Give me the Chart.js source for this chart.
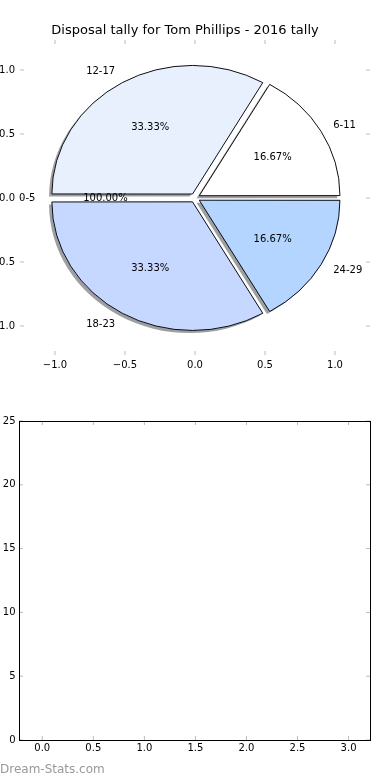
<!DOCTYPE html>
<html>
<head>
<meta charset="utf-8">
<script src="https://cdn.jsdelivr.net/npm/chart.js@4.4.0/dist/chart.umd.min.js"></script>
<style>
  html, body { margin: 0; padding: 0; background: #fff; }
  #page { position: relative; width: 390px; height: 780px; overflow: hidden; font-family: "DejaVu Sans", sans-serif; }
  .box { position: absolute; left: 0; width: 390px; height: 390px; }
  #topBox, #pieBox { top: 0; }
  #bottomBox { top: 390px; }
  #mark { position: absolute; left: 0; top: 762px; font-size: 12px; color: #999; white-space: nowrap; }
</style>
</head>
<body>
<div id="page">
  <div class="box" id="topBox"><canvas id="topAxes"></canvas></div>
  <div class="box" id="pieBox"><canvas id="pie"></canvas></div>
  <div class="box" id="bottomBox"><canvas id="bottomAxes"></canvas></div>
  <div id="mark">Dream-Stats.com</div>
</div>
<script>
const chartTitle = 'Disposal tally for Tom Phillips - 2016 tally';

// slices, counter-clockwise from 3 o'clock as in the picture
const ageGroups = ['6-11', '12-17', '0-5', '18-23', '24-29'];
const tally = [1, 2, 0, 2, 1];
const pctLabels = ['16.67%', '33.33%', '100.00%', '33.33%', '16.67%'];
const sliceColors = ['#ffffff', '#e8f0fe', '#dde8ff', '#c6d8ff', '#b3d5ff'];
const explode = 0.04;

const pieTicks = [-1.0, -0.5, 0.0, 0.5, 1.0];
const lowerXTicks = [0.0, 0.5, 1.0, 1.5, 2.0, 2.5, 3.0];
const lowerYTicks = [0, 5, 10, 15, 20, 25];

Chart.defaults.font.family = '"DejaVu Sans", sans-serif';
Chart.defaults.font.size = 10;
Chart.defaults.color = '#000';
Chart.defaults.animation = false;

const fmt1 = v => (v < 0 ? '\u2212' : '') + Math.abs(v).toFixed(1);

// little inward ticks on all four sides, like matplotlib's classic style
const innerTicks = {
  id: 'innerTicks',
  afterDraw(chart, args, opts) {
    const { ctx, chartArea: a, scales } = chart;
    ctx.save();
    ctx.strokeStyle = '#bbb';
    ctx.lineWidth = 1;
    ctx.beginPath();
    scales.x.ticks.forEach(t => {
      const p = scales.x.getPixelForValue(t.value);
      ctx.moveTo(p, a.top); ctx.lineTo(p, a.top + 4);
      ctx.moveTo(p, a.bottom); ctx.lineTo(p, a.bottom - 4);
    });
    scales.y.ticks.forEach(t => {
      const p = scales.y.getPixelForValue(t.value);
      ctx.moveTo(a.left, p); ctx.lineTo(a.left + 4, p);
      ctx.moveTo(a.right, p); ctx.lineTo(a.right - 4, p);
    });
    ctx.stroke();
    if (opts.frame) {
      ctx.strokeStyle = '#000';
      ctx.strokeRect(a.left + 0.5, a.top + 0.5, a.right - a.left, a.bottom - a.top);
    }
    ctx.restore();
  }
};

function axisScale(min, max, tickList, fmt, pad, fit) {
  return {
    type: 'linear', min, max,
    grid: { display: false, drawTicks: false },
    border: { display: false },
    afterBuildTicks: s => { s.ticks = tickList.map(v => ({ value: v })); },
    afterFit: fit,
    ticks: { padding: pad, callback: fmt, color: '#000' }
  };
}

const topAxes = new Chart(document.getElementById('topAxes'), {
  type: 'scatter',
  data: { datasets: [] },
  options: {
    responsive: true,
    maintainAspectRatio: false,
    layout: { padding: { top: 0, right: 20, left: 0, bottom: 0 } },
    plugins: {
      legend: { display: false },
      tooltip: { enabled: false },
      innerTicks: { frame: false },
      title: {
        display: true, text: chartTitle, color: '#000',
        font: { size: 13, weight: 'normal' },
        padding: { top: 23, bottom: 1.4 }
      }
    },
    scales: {
      x: axisScale(-1.25, 1.25, pieTicks, fmt1, 4, s => { s.height = 35; }),
      y: axisScale(-1.227, 1.234, pieTicks, fmt1, 5, s => { s.width = 20; })
    }
  },
  plugins: [innerTicks]
});

const rx = topAxes.scales.x.getPixelForValue(1) - topAxes.scales.x.getPixelForValue(0);
const ry = topAxes.scales.y.getPixelForValue(0) - topAxes.scales.y.getPixelForValue(1);
const cx0 = topAxes.scales.x.getPixelForValue(0);
const cy0 = topAxes.scales.y.getPixelForValue(0);

// Chart.js draws clockwise, so feed the slices in reverse and start at 3 o'clock
const order = ageGroups.map((_, i) => i).reverse();
const total = tally.reduce((s, v) => s + v, 0);

// squash the circle into the axes' aspect and put a drop shadow under all wedges
const ellipse = {
  id: 'ellipse',
  beforeDatasetsDraw(chart) {
    const { ctx, chartArea: a } = chart;
    const cx = (a.left + a.right) / 2, cy = (a.top + a.bottom) / 2;
    ctx.save();
    ctx.translate(cx, cy);
    ctx.scale(rx / ry, 1);
    ctx.translate(-cx, -cy);
    ctx.save();
    ctx.shadowColor = 'rgba(60,64,72,0.5)';
    ctx.shadowOffsetX = -0.02 * rx;
    ctx.shadowOffsetY = 0.02 * ry;
    ctx.shadowBlur = 0;
    chart.getDatasetMeta(0).data.forEach(el => {
      const saved = el.options;
      el.options = Object.assign({}, saved, { borderWidth: 0 });
      el.draw(ctx);
      el.options = saved;
    });
    ctx.restore();
  },
  afterDatasetsDraw(chart) {
    chart.ctx.restore();
  }
};

const pieLabels = {
  id: 'pieLabels',
  afterDraw(chart) {
    const { ctx } = chart;
    const meta = chart.getDatasetMeta(0);
    ctx.save();
    ctx.fillStyle = '#000';
    ctx.font = '10px "DejaVu Sans", sans-serif';
    ctx.textBaseline = 'middle';
    meta.data.forEach((el, j) => {
      const th = (el.startAngle + el.endAngle) / 2;
      const c = Math.cos(th), s = Math.sin(th);
      const lx = el.x + rx * (explode + 1.1) * c;
      const ly = el.y + ry * (explode + 1.1) * s;
      ctx.textAlign = c > 0 ? 'left' : 'right';
      ctx.fillText(chart.data.labels[j], lx, ly);
      ctx.textAlign = 'center';
      ctx.fillText(pctLabels[order[j]], el.x + rx * (explode + 0.6) * c, el.y + ry * (explode + 0.6) * s);
    });
    ctx.restore();
  }
};

// pie chart area matches the axes' data centre
new Chart(document.getElementById('pie'), {
  type: 'pie',
  data: {
    labels: order.map(i => ageGroups[i]),
    datasets: [{
      data: order.map(i => tally[i]),
      backgroundColor: order.map(i => sliceColors[i]),
      borderColor: '#000',
      borderWidth: 0.9,
      borderJoinStyle: 'miter',
      hoverOffset: 0,
      offset: c => {
        const circ = 2 * Math.PI * c.raw / total;
        return 4 * explode * ry / (2 - Math.sin(Math.min(Math.PI, circ)));
      }
    }]
  },
  options: {
    responsive: true,
    maintainAspectRatio: false,
    rotation: 90,
    radius: ry,
    events: [],
    layout: { padding: { left: 0, right: 390 - 2 * cx0, top: 2 * cy0 - 390, bottom: 0 } },
    plugins: { legend: { display: false }, tooltip: { enabled: false } }
  },
  plugins: [ellipse, pieLabels]
});

new Chart(document.getElementById('bottomAxes'), {
  type: 'scatter',
  data: { datasets: [] },
  options: {
    responsive: true,
    maintainAspectRatio: false,
    layout: { padding: { top: 31, right: 20, left: 0, bottom: 0 } },
    plugins: {
      legend: { display: false },
      tooltip: { enabled: false },
      innerTicks: { frame: true }
    },
    scales: {
      x: axisScale(-0.228, 3.21, lowerXTicks, v => v.toFixed(1), 2, s => { s.height = 40; }),
      y: axisScale(0, 25, lowerYTicks, v => String(v), 3.5, s => { s.width = 19; })
    }
  },
  plugins: [innerTicks]
});
</script>
</body>
</html>
